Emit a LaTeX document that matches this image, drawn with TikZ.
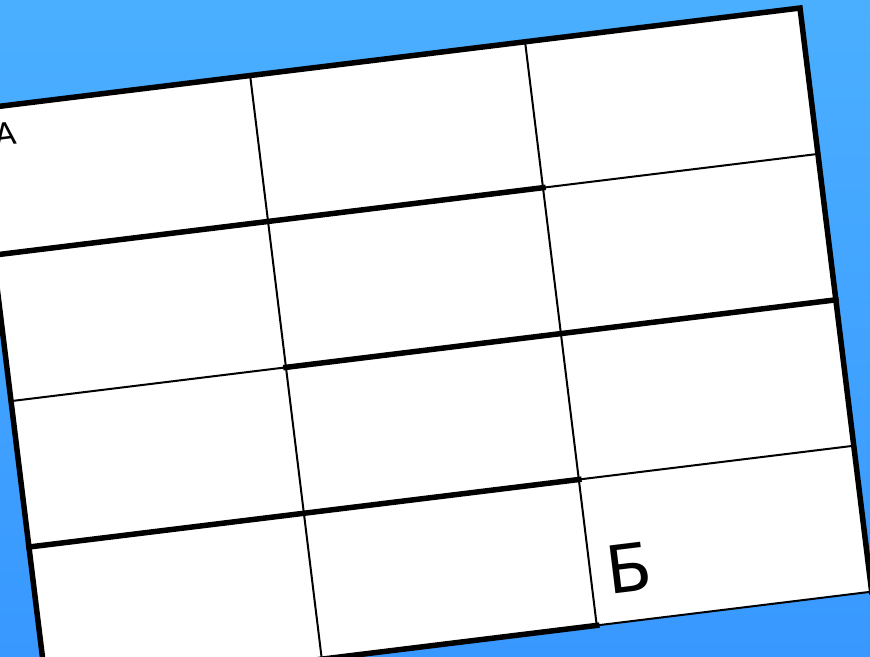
\documentclass[tikz,border=0pt]{standalone}
\usepackage{fontspec}
\setmainfont{DejaVu Sans}
\definecolor{skytop}{RGB}{75,175,255}
\definecolor{skybot}{RGB}{56,152,255}
\begin{document}
\begin{tikzpicture}[x=1pt, y=-1pt,
    wall/.style={line width=5.5pt, line cap=rect, line join=miter},
    thinwall/.style={line width=2pt},
    letter/.style={inner sep=0pt}]
  \shade[top color=skytop, bottom color=skybot] (0,0) rectangle (870,656);
  \useasboundingbox (0,0) rectangle (870,656);
  \clip (0,0) rectangle (870,656);
  % maze sheet, 3 x 4 cells, tilted
  \begin{scope}[shift={(-24.8pt,-109.3pt)}, rotate=7, x=277pt, y=-147pt, transform shape]
    \fill[white] (0,0) rectangle (3,4);
    \foreach \c in {1,2} \draw[thinwall] (\c,0) -- (\c,4);
    \foreach \r in {1,2,3} \draw[thinwall] (0,\r) -- (3,\r);
    \draw[thinwall] (2,4) -- (3,4);
    % walls
    \draw[wall] (0,4) -- (0,0) -- (3,0) -- (3,4);
    \draw[wall] (0,4) -- (2,4);
    \draw[wall] (0,1) -- (2,1);
    \draw[wall] (1,2) -- (3,2);
    \draw[wall] (0,3) -- (2,3);
    \node[letter, font=\fontsize{31}{34}\selectfont] (start) at (0.1,0.19) {А};
    \node[letter, font=\fontsize{66}{70}\selectfont] (finish) at (2.14,3.64) {Б};
  \end{scope}
\end{tikzpicture}
\end{document}
